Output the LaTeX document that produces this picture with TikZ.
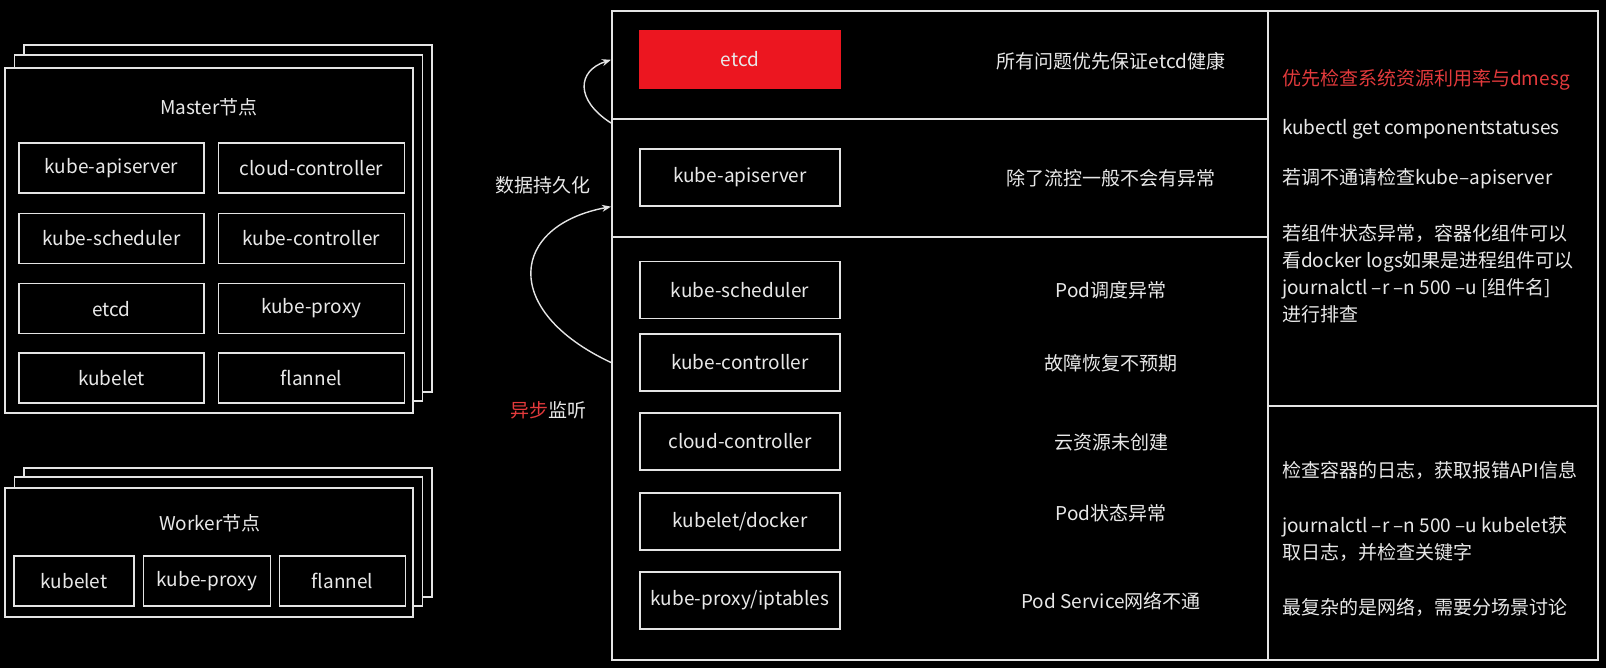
\documentclass[tikz,border=0pt]{standalone}
\usepackage{fontspec}
\setmainfont{Noto Sans CJK SC}
\usetikzlibrary{arrows.meta,positioning}
\definecolor{boardbg}{HTML}{000000}
\definecolor{linegray}{HTML}{E4E4E4}
\definecolor{textgray}{HTML}{E8E8E8}
\definecolor{alertred}{HTML}{EC1620}
\definecolor{notered}{HTML}{E33A3C}
\tikzset{
  compbox/.style={draw=linegray, line width=1.3pt, fill=black, text=textgray, inner sep=0pt, minimum height=50pt, font=\fontsize{19}{22}\selectfont},
  nodecard/.style={draw=linegray, line width=1.3pt, fill=black, inner sep=0pt, minimum width=408pt},
  panelsec/.style={draw=linegray, line width=1.6pt, inner sep=0pt, anchor=north west},
  tiptext/.style={text=textgray, inner sep=0pt, font=\fontsize{19}{22}\selectfont},
  notetext/.style={text=textgray, inner sep=0pt, anchor=west, align=left, font=\fontsize{19}{27}\selectfont},
  flowarrow/.style={-{Stealth[length=9pt,width=7pt]}, line width=1.4pt, draw=linegray},
}
\begin{document}
\begin{tikzpicture}[x=1pt, y=-1pt]
    \fill[boardbg] (0,0) rectangle (1606,668);
    \useasboundingbox (0,0) rectangle (1606,668);
    % master stack
    \node[nodecard, minimum height=347pt] (master3) at (228,218.5) {};
    \node[nodecard, minimum height=346pt] (master2) at (218.5,228) {};
    \node[nodecard, minimum height=345pt] (master) at (209,240.5) {};
    \node[tiptext] (master-title) at (209,107) {Master节点};
    \node[compbox, minimum width=185pt] (m-api) at (111.5,168) {kube-apiserver};
    \node[compbox, minimum width=186pt, right=13pt of m-api] (m-cloud) {cloud-controller};
    \node[compbox, minimum width=185pt, below=19pt of m-api] (m-sched) {kube-scheduler};
    \node[compbox, minimum width=186pt, right=13pt of m-sched] (m-ctrl) {kube-controller};
    \node[compbox, minimum width=185pt, below=19pt of m-sched] (m-etcd) {etcd};
    \node[compbox, minimum width=186pt, right=13pt of m-etcd] (m-proxy) {kube-proxy};
    \node[compbox, minimum width=185pt, below=18pt of m-etcd] (m-kubelet) {kubelet};
    \node[compbox, minimum width=186pt, right=13pt of m-kubelet] (m-flannel) {flannel};
    % worker stack
    \node[nodecard, minimum height=129pt] (worker3) at (228,532.5) {};
    \node[nodecard, minimum height=129pt] (worker2) at (218.5,541.5) {};
    \node[nodecard, minimum height=129pt] (worker) at (209,552.5) {};
    \node[tiptext] (worker-title) at (210,523) {Worker节点};
    \node[compbox, minimum width=120pt] (w-kubelet) at (74,581) {kubelet};
    \node[compbox, minimum width=127pt, right=8pt of w-kubelet] (w-proxy) {kube-proxy};
    \node[compbox, minimum width=126pt, right=8pt of w-proxy] (w-flannel) {flannel};
    % troubleshooting panel
    \node[panelsec, minimum width=656pt, minimum height=108pt] (sec-etcd) at (611,10) {};
    \node[panelsec, minimum width=656pt, minimum height=118pt] (sec-api) at (611,118) {};
    \node[panelsec, minimum width=656pt, minimum height=423pt] (sec-rest) at (611,236) {};
    \node[panelsec, minimum width=330pt, minimum height=395pt] (chk-top) at (1267,10) {};
    \node[panelsec, minimum width=330pt, minimum height=254pt] (chk-bot) at (1267,405) {};
    \node[compbox, minimum width=200pt, minimum height=57pt, fill=alertred, draw=alertred] (p-etcd) at (740,59.5) {etcd};
    \node[compbox, minimum width=200pt, minimum height=57pt] (p-api) at (740,177.5) {kube-apiserver};
    \node[compbox, minimum width=200pt, minimum height=57pt] (p-sched) at (740,290) {kube-scheduler};
    \node[compbox, minimum width=200pt, minimum height=57pt] (p-ctrl) at (740,362.5) {kube-controller};
    \node[compbox, minimum width=200pt, minimum height=57pt] (p-cloud) at (740,441.5) {cloud-controller};
    \node[compbox, minimum width=200pt, minimum height=57pt] (p-kubelet) at (740,521.5) {kubelet/docker};
    \node[compbox, minimum width=200pt, minimum height=57pt] (p-proxy) at (740,600.5) {kube-proxy/iptables};
    \node[tiptext] (t-etcd) at (1111,61) {所有问题优先保证etcd健康};
    \node[tiptext] (t-api) at (1111,178) {除了流控一般不会有异常};
    \node[tiptext] (t-sched) at (1111,290) {Pod调度异常};
    \node[tiptext] (t-ctrl) at (1111,363) {故障恢复不预期};
    \node[tiptext] (t-cloud) at (1111,442) {云资源未创建};
    \node[tiptext] (t-kubelet) at (1111,513) {Pod状态异常};
    \node[tiptext] (t-proxy) at (1111,601) {Pod Service网络不通};
    % notes on the right
    \node[notetext, text=notered] (n-first) at (1282,80) {优先检查系统资源利用率与dmesg};
    \node[notetext] (n-cs) at (1282,129) {kubectl get componentstatuses};
    \node[notetext] (n-api) at (1282,179) {若调不通请检查kube–apiserver};
    \node[notetext] (n-comp) at (1282,274) {若组件状态异常，容器化组件可以\\看docker logs如果是进程组件可以\\journalctl –r –n 500 –u [组件名]\\进行排查};
    \node[notetext] (n-log) at (1282,470) {检查容器的日志，获取报错API信息};
    \node[notetext] (n-journal) at (1282,539.5) {journalctl –r –n 500 –u kubelet获\\取日志，并检查关键字};
    \node[notetext] (n-net) at (1282,607) {最复杂的是网络，需要分场景讨论};
    % side labels and arrows
    \node[tiptext] (l-persist) at (543,185) {数据持久化};
    \node[tiptext] (l-watch) at (548,410) {\textcolor{notered}{异步}监听};
    \draw[flowarrow] ([yshift=-5pt]sec-api.north west) .. controls +(-36,-23) and +(-34,11) .. ([yshift=5pt]sec-etcd.west);
    \draw[flowarrow] (sec-rest.west |- p-ctrl) .. controls +(-111,-52) and +(-101,19) .. (sec-api.west |- p-api.south);
\end{tikzpicture}
\end{document}
